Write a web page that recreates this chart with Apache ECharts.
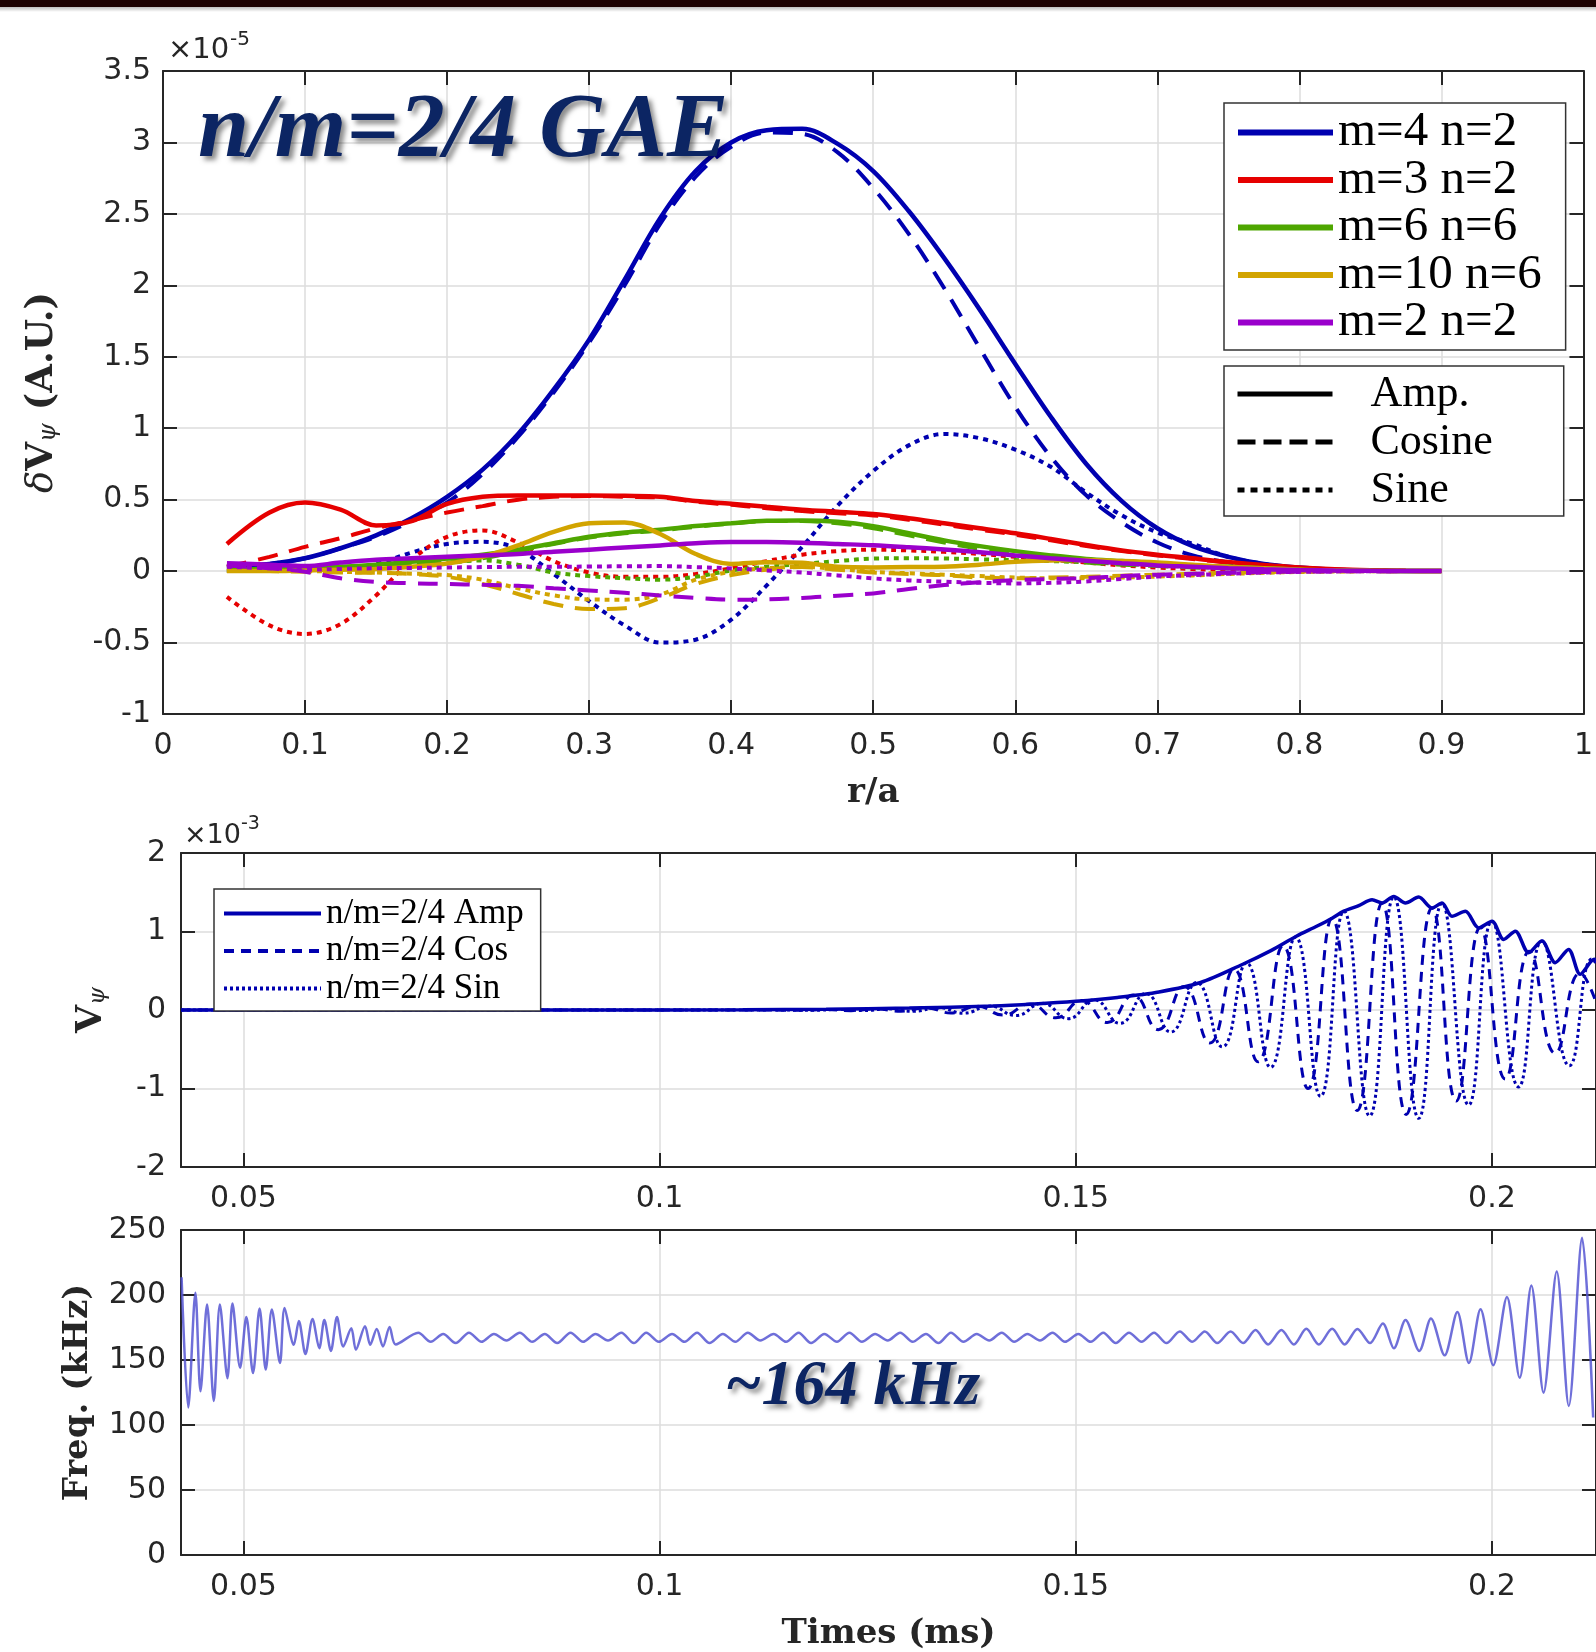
<!DOCTYPE html>
<html><head><meta charset="utf-8">
<script src="https://cdn.jsdelivr.net/npm/echarts@6/dist/echarts.min.js"></script>
<style>html,body{margin:0;padding:0;background:#fff}#c{width:1596px;height:1652px}</style>
</head><body><div id="c"></div>
<script>
// ---------------- DATA ----------------
const rGrid = [0.045,0.075,0.1,0.125,0.15,0.175,0.2,0.225,0.25,0.275,0.3,0.325,0.35,0.375,0.4,0.425,0.45,0.475,0.5,0.525,0.55,0.575,0.6,0.625,0.65,0.675,0.7,0.725,0.75,0.775,0.8,0.825,0.85,0.875,0.9];

const m4n2Amp = [0.03,0.05,0.09,0.16,0.25,0.37,0.52,0.71,0.96,1.27,1.62,2.04,2.47,2.80,3.00,3.085,3.095,2.99,2.80,2.52,2.19,1.83,1.45,1.08,0.75,0.49,0.30,0.175,0.10,0.05,0.025,0.01,0.004,0.001,0];
const m4n2Cos = [0.03,0.05,0.09,0.16,0.24,0.35,0.48,0.68,0.94,1.25,1.60,2.00,2.43,2.76,2.97,3.07,3.06,2.93,2.68,2.36,1.98,1.56,1.15,0.80,0.53,0.34,0.20,0.11,0.06,0.03,0.012,0.005,0.002,0,0];
const m4n2Sin = [0,0,0.01,0.02,0.05,0.13,0.19,0.205,0.155,-0.02,-0.21,-0.38,-0.50,-0.48,-0.34,-0.10,0.17,0.46,0.70,0.88,0.96,0.93,0.85,0.73,0.55,0.39,0.27,0.19,0.10,0.05,0.02,0.008,0.003,0.001,0];

const m3n2Amp = [0.19,0.41,0.48,0.43,0.32,0.35,0.47,0.52,0.53,0.53,0.53,0.527,0.52,0.49,0.472,0.45,0.43,0.415,0.40,0.37,0.335,0.30,0.265,0.225,0.183,0.145,0.115,0.09,0.063,0.042,0.025,0.013,0.006,0.002,0];
const m3n2Cos = [0.03,0.10,0.17,0.23,0.30,0.355,0.41,0.455,0.50,0.52,0.525,0.52,0.515,0.485,0.465,0.44,0.42,0.405,0.39,0.36,0.325,0.29,0.255,0.215,0.175,0.14,0.11,0.085,0.06,0.04,0.024,0.012,0.006,0.002,0];
const m3n2Sin = [-0.18,-0.38,-0.44,-0.37,-0.17,0.08,0.24,0.285,0.20,0.07,-0.01,-0.04,-0.04,-0.02,0.02,0.07,0.115,0.14,0.15,0.145,0.135,0.12,0.10,0.08,0.06,0.04,0.025,0.015,0.008,0.004,0.002,0.001,0,0,0];

const m6n6Amp = [0.01,0.015,0.02,0.03,0.045,0.065,0.088,0.115,0.15,0.195,0.24,0.27,0.29,0.315,0.335,0.352,0.355,0.345,0.315,0.265,0.215,0.175,0.14,0.11,0.085,0.07,0.055,0.04,0.03,0.02,0.01,0.005,0.002,0.001,0];
const m6n6Cos = [0.01,0.015,0.02,0.03,0.04,0.05,0.06,0.09,0.14,0.19,0.235,0.265,0.285,0.31,0.333,0.35,0.35,0.335,0.30,0.25,0.20,0.155,0.115,0.085,0.06,0.045,0.035,0.025,0.02,0.013,0.007,0.003,0.001,0,0];
const m6n6Sin = [0,0,0.005,0.01,0.02,0.04,0.06,0.075,0.045,-0.01,-0.035,-0.05,-0.06,-0.04,0.005,0.03,0.05,0.07,0.088,0.09,0.088,0.082,0.077,0.07,0.062,0.05,0.04,0.03,0.02,0.012,0.006,0.003,0.001,0,0];

const m10n6Amp = [0,0,0.005,0.01,0.015,0.03,0.053,0.10,0.18,0.275,0.335,0.34,0.26,0.12,0.05,0.062,0.058,0.03,0.026,0.028,0.03,0.045,0.065,0.075,0.077,0.07,0.06,0.045,0.03,0.02,0.01,0.005,0.002,0.001,0];
const m10n6Cos = [0,0,-0.005,-0.01,-0.012,-0.02,-0.04,-0.09,-0.16,-0.23,-0.265,-0.26,-0.19,-0.09,-0.028,0.01,0.028,0.01,-0.01,-0.02,-0.028,-0.045,-0.05,-0.045,-0.04,-0.032,-0.025,-0.018,-0.012,-0.007,-0.003,-0.001,0,0,0];
const m10n6Sin = [0,0,0,-0.005,-0.01,-0.018,-0.028,-0.06,-0.12,-0.17,-0.198,-0.20,-0.165,-0.06,-0.005,0.02,0.03,0.015,-0.005,-0.015,-0.025,-0.035,-0.045,-0.05,-0.05,-0.045,-0.038,-0.03,-0.02,-0.012,-0.006,-0.003,-0.001,0,0];

const m2n2Amp = [0.055,0.045,0.035,0.06,0.08,0.09,0.10,0.11,0.12,0.135,0.15,0.165,0.18,0.195,0.203,0.203,0.199,0.19,0.181,0.167,0.151,0.132,0.11,0.09,0.072,0.055,0.04,0.03,0.02,0.013,0.008,0.004,0.002,0.001,0];
const m2n2Cos = [0.04,0.02,-0.005,-0.05,-0.075,-0.085,-0.09,-0.096,-0.103,-0.12,-0.136,-0.152,-0.17,-0.188,-0.2,-0.198,-0.188,-0.172,-0.156,-0.125,-0.098,-0.078,-0.063,-0.055,-0.049,-0.035,-0.025,-0.018,-0.012,-0.007,-0.004,-0.002,-0.001,0,0];
const m2n2Sin = [0.03,0.02,0.01,0.015,0.02,0.022,0.025,0.028,0.03,0.03,0.032,0.034,0.035,0.028,0.019,0.005,-0.01,-0.03,-0.051,-0.065,-0.074,-0.082,-0.086,-0.082,-0.072,-0.055,-0.038,-0.028,-0.018,-0.01,-0.005,-0.002,-0.001,0,0];

const modeNames = ['m=4 n=2','m=3 n=2','m=6 n=6','m=10 n=6','m=2 n=2'];
const styleNames = ['Amp.','Cosine','Sine'];

// time traces (ms, x1e-3)
const vpsiAmp = [[0.0425,0],[0.09,0],[0.11,0.004],[0.12,0.01],[0.13,0.025],[0.14,0.05],[0.145,0.075],[0.15,0.11],[0.155,0.16],[0.16,0.23],[0.165,0.35],[0.17,0.58],[0.1735,0.76],[0.1765,0.94],[0.179,1.07],[0.1808,1.17],[0.1822,1.26],[0.184,1.33],[0.1856,1.405],[0.1868,1.363],[0.1882,1.447],[0.1896,1.363],[0.1912,1.439],[0.1928,1.30],[0.194,1.363],[0.1952,1.194],[0.1968,1.257],[0.1984,1.046],[0.2,1.131],[0.2014,0.899],[0.2028,1.004],[0.2044,0.73],[0.206,0.878],[0.2076,0.603],[0.2092,0.772],[0.2106,0.456],[0.2123,0.646],[0.2125,0.62]];
const vpsiCos = [[0.0425,0],[0.1135,0],[0.117,-0.004],[0.12,0.006],[0.123,-0.008],[0.126,0.014],[0.129,-0.015],[0.132,0.028],[0.135,-0.037],[0.1382,0.047],[0.1413,-0.065],[0.1445,0.078],[0.1476,-0.10],[0.1507,0.12],[0.1538,-0.16],[0.1569,0.19],[0.1599,-0.25],[0.163,0.30],[0.1661,-0.42],[0.169,0.52],[0.1719,-0.66],[0.1749,0.82],[0.1779,-1.00],[0.1808,1.17],[0.1838,-1.28],[0.1868,1.36],[0.1897,-1.33],[0.1928,1.30],[0.1957,-1.16],[0.1986,1.05],[0.2016,-0.88],[0.2045,0.75],[0.2076,-0.55],[0.2106,0.47],[0.2125,0.1]];
const vpsiSin = [[0.0425,0],[0.115,0],[0.1185,-0.004],[0.1215,0.006],[0.1245,-0.008],[0.1275,0.015],[0.1305,-0.016],[0.1335,0.03],[0.1365,-0.04],[0.1397,0.05],[0.1428,-0.07],[0.146,0.085],[0.1491,-0.11],[0.1522,0.13],[0.1553,-0.17],[0.1584,0.21],[0.1614,-0.28],[0.1645,0.35],[0.1676,-0.47],[0.1705,0.60],[0.1734,-0.73],[0.1764,0.93],[0.1794,-1.10],[0.1822,1.26],[0.1853,-1.35],[0.1882,1.44],[0.1912,-1.38],[0.194,1.36],[0.1972,-1.21],[0.2,1.13],[0.2032,-0.98],[0.206,0.88],[0.2093,-0.71],[0.212,0.65],[0.2125,0.6]];

const freqKHz = [[0.04257,213.7],[0.04337,113.5],[0.04423,201.8],[0.04484,126.0],[0.04563,192.6],[0.04644,118.5],[0.04717,192.6],[0.04808,136.0],[0.04868,193.4],[0.0496,144.0],[0.05035,183.0],[0.05115,140.0],[0.05194,189.6],[0.05268,142.6],[0.05341,188.8],[0.05439,147.7],[0.05494,190.0],[0.05605,161.7],[0.05666,180.0],[0.05745,154.6],[0.0583,181.5],[0.05911,159.0],[0.05972,180.7],[0.06051,157.0],[0.06124,183.0],[0.06199,160.4],[0.06296,174.4],[0.06351,157.9],[0.06461,176.0],[0.06523,161.7],[0.06602,173.9],[0.06676,160.4],[0.06756,175.4],[0.06829,162.0],
[0.0710,171],[0.0725,164],[0.0740,170],[0.0755,163],[0.0771,171],[0.0786,164],[0.0801,170],[0.0816,165],[0.0832,171],[0.0847,164],[0.0862,170],[0.0877,163],[0.0893,171],[0.0908,164],[0.0923,170],[0.0938,165],[0.0954,171],[0.0969,163],[0.0984,171],[0.0999,164],[0.1015,170],[0.1030,164],[0.1045,171],[0.1060,163],[0.1076,170],[0.1091,164],[0.1106,171],[0.1121,165],[0.1137,170],[0.1152,164],[0.1167,171],[0.1182,163],[0.1198,170],[0.1213,164],[0.1228,171],[0.1243,164],[0.1259,170],[0.1274,165],[0.1289,171],[0.1304,164],[0.1320,170],[0.1335,163],[0.1350,171],[0.1365,164],[0.1381,170],[0.1396,165],[0.1411,171],[0.1426,164],[0.1442,170],[0.1457,165],[0.1472,171],[0.1487,164],[0.1503,170],[0.1518,164],[0.1533,171],[0.1548,163],[0.1564,171],[0.1579,164],[0.1594,171],[0.1609,163],[0.1625,172],[0.1640,164],[0.1655,172],[0.1670,163],[0.1686,172],[0.1701,163],[0.1716,173],[0.1731,162],[0.1747,173],[0.1762,162],[0.1777,174],[0.1792,162],[0.1808,174],[0.1823,162],
[0.18384,173.9],[0.18535,163.0],[0.18689,178.0],[0.18822,159.0],[0.18962,180.7],[0.19127,157.0],[0.19267,182.0],[0.19431,153.6],[0.19584,187.0],[0.19723,147.7],[0.19863,189.0],[0.20015,146.0],[0.2018,198.5],[0.20333,136.3],[0.20473,207.4],[0.2062,124.9],[0.20778,218.0],[0.20923,114.7],[0.21083,244.0],[0.21216,105.8]];

const rTicks = {min:0, max:1, interval:0.1};
const timeTicks = [0.05, 0.1, 0.15, 0.2];

// ---------------- STYLE ----------------
const AX = '#262626';
const tickFont = {fontFamily:'DejaVu Sans', fontSize:30, color:AX};
const nameFont = {fontFamily:'DejaVu Serif', fontWeight:'bold', fontSize:34, color:AX};
const modeColors = ['#0000b0','#e60000','#4ea600','#d2a400','#9a00cc'];

function axisCommon(showLabel, margin) {
  return {
    type:'value',
    axisLine:{show:true, onZero:false, lineStyle:{color:AX, width:2}},
    axisTick:{show:true, inside:true, length:14, lineStyle:{color:AX, width:2}},
    axisLabel: Object.assign({show:showLabel, margin:margin}, tickFont),
    splitLine:{show:showLabel, lineStyle:{color:'#dcdcdc', width:1.5}}
  };
}
function timeX(grid, pos, showLabel, name) {
  const a = axisCommon(showLabel, 17);
  a.gridIndex = grid; a.position = pos; a.min = 0.0425; a.max = 0.2125;
  a.axisTick.customValues = timeTicks;
  a.axisLabel.customValues = timeTicks;
  if (name) { a.name = name; a.nameLocation = 'middle'; a.nameGap = 62; a.nameTextStyle = nameFont; }
  return a;
}

const xAxes = [];
let a = axisCommon(true, 17);
Object.assign(a, {gridIndex:0, position:'bottom', min:rTicks.min, max:rTicks.max, interval:rTicks.interval,
  name:'r/a', nameLocation:'middle', nameGap:62, nameTextStyle:nameFont});
xAxes.push(a);
a = axisCommon(false, 17);
Object.assign(a, {gridIndex:0, position:'top', min:rTicks.min, max:rTicks.max, interval:rTicks.interval});
xAxes.push(a);
xAxes.push(timeX(1,'bottom',true));
xAxes.push(timeX(1,'top',false));
xAxes.push(timeX(2,'bottom',true,'Times (ms)'));
xAxes.push(timeX(2,'top',false));

const yAxes = [];
function yAx(grid, pos, min, max, interval, showLabel, margin, nameOpt) {
  const y = axisCommon(showLabel, margin);
  Object.assign(y, {gridIndex:grid, position:pos, min:min, max:max, interval:interval});
  if (nameOpt) Object.assign(y, nameOpt);
  return y;
}
function subRich(fs) {
  return {
    d:{fontFamily:'DejaVu Serif', fontStyle:'italic', fontSize:fs, color:AX, lineHeight:fs, verticalAlign:'top'},
    v:{fontFamily:'DejaVu Serif', fontWeight:'bold', fontSize:fs, color:AX, lineHeight:fs, verticalAlign:'top'},
    s:{fontFamily:'DejaVu Serif', fontStyle:'italic', fontSize:Math.round(fs*0.65), color:AX, lineHeight:Math.round(fs*0.65), padding:[Math.round(fs*0.5),0,0,0], verticalAlign:'bottom'},
    t:{fontFamily:'DejaVu Serif', fontWeight:'bold', fontSize:fs, color:AX, lineHeight:fs, verticalAlign:'top'}
  };
}
yAxes.push(yAx(0,'left',-1,3.5,0.5,true,12,{name:'{d|δ}{v|V}{s|ψ}{t| (A.U.)}', nameLocation:'middle', nameRotate:90, nameGap:102, nameTextStyle:{rich:subRich(37)}}));
yAxes.push(yAx(0,'right',-1,3.5,0.5,false,12));
yAxes.push(yAx(1,'left',-2,2,1,true,15,{name:'{v|V}{s|ψ}', nameLocation:'middle', nameRotate:90, nameGap:71, nameTextStyle:{rich:subRich(36)}}));
yAxes.push(yAx(1,'right',-2,2,1,false,15));
yAxes.push(yAx(2,'left',0,250,50,true,15,{name:'Freq. (kHz)', nameLocation:'middle', nameRotate:90, nameGap:86, nameTextStyle:nameFont}));
yAxes.push(yAx(2,'right',0,250,50,false,15));

// ---------------- SERIES ----------------
const radial = [
  [m4n2Amp,m4n2Cos,m4n2Sin],[m3n2Amp,m3n2Cos,m3n2Sin],[m6n6Amp,m6n6Cos,m6n6Sin],
  [m10n6Amp,m10n6Cos,m10n6Sin],[m2n2Amp,m2n2Cos,m2n2Sin]
];
const series = [];
radial.forEach((set, mi) => {
  const kinds = ['amp','cos','sin'];
  set.forEach((vals, k) => {
    series.push({
      type:'line', name: k===0 ? modeNames[mi] : modeNames[mi] + ' ' + kinds[k],
      xAxisIndex:0, yAxisIndex:0,
      data: rGrid.map((r,i)=>[r, vals[i]]),
      smooth:0.35, symbol:'none', showSymbol:false, silent:true,
      itemStyle:{color:modeColors[mi]},
      lineStyle:{color:modeColors[mi], width: k===0?4.5:4, type: k===0?'solid':(k===1?[20,12]:[5,5])}
    });
  });
});
// style-legend placeholders (black)
[['solid',5],[[18,8],5],[[7,6],5]].forEach((st,i)=>{
  series.push({type:'line', name:styleNames[i], xAxisIndex:0, yAxisIndex:0, data:[], symbol:'none',
    itemStyle:{color:'#000'}, lineStyle:{color:'#000', width:st[1], type:st[0]}});
});
const tBlue = '#0000b0';
series.push({type:'line', name:'n/m=2/4 Amp', xAxisIndex:2, yAxisIndex:2, data:vpsiAmp, smooth:0.3, symbol:'none',
  itemStyle:{color:tBlue}, lineStyle:{color:tBlue, width:3.5}});
series.push({type:'line', name:'n/m=2/4 Cos', xAxisIndex:2, yAxisIndex:2, data:vpsiCos, smooth:0.5, symbol:'none',
  itemStyle:{color:tBlue}, lineStyle:{color:tBlue, width:3, type:[10,7]}});
series.push({type:'line', name:'n/m=2/4 Sin', xAxisIndex:2, yAxisIndex:2, data:vpsiSin, smooth:0.5, symbol:'none',
  itemStyle:{color:tBlue}, lineStyle:{color:tBlue, width:3, type:[3,3]}});
series.push({type:'line', name:'Freq', xAxisIndex:4, yAxisIndex:4, data:freqKHz, smooth:0.3, symbol:'none',
  itemStyle:{color:'#5656d2'}, lineStyle:{color:'#5656d2', width:2.5, opacity:0.85}});

const legendBox = {orient:'vertical', borderColor:'#333', borderWidth:1.5, backgroundColor:'#fff', selectedMode:false, itemGap:0,
  itemStyle:{opacity:0, borderWidth:0}};
const option = {
  animation:false,
  backgroundColor:'#ffffff',
  grid:[
    {left:163, right:3, top:71, bottom:938, containLabel:false},
    {left:181, right:-2, top:853, bottom:485},
    {left:181, right:-2, top:1230, bottom:94}
  ],
  xAxis:xAxes, yAxis:yAxes,
  legend:[
    Object.assign({}, legendBox, {left:1224, top:103, itemWidth:95, itemHeight:2, itemGap:-1.5, padding:[5,24,3,11],
      data:modeNames, lineStyle:{width:6},
      textStyle:{fontFamily:'Liberation Serif', fontSize:49, color:'#000'}}),
    Object.assign({}, legendBox, {left:1224, top:366, itemWidth:95, itemHeight:2, itemGap:4, padding:[6,71,4,11],
      data:styleNames, lineStyle:{width:5}, formatter:n=>'   '+n,
      textStyle:{fontFamily:'Liberation Serif', fontSize:44, color:'#000'}}),
    Object.assign({}, legendBox, {left:214, top:889, itemWidth:97, itemHeight:2, itemGap:2.5, padding:[7,17,5,8],
      data:['n/m=2/4 Amp','n/m=2/4 Cos','n/m=2/4 Sin'], lineStyle:{width:4},
      textStyle:{fontFamily:'Liberation Serif', fontSize:35, color:'#000'}})
  ],
  graphic:[
    {type:'rect', z:100, shape:{x:0,y:0,width:1596,height:7}, style:{fill:'#1e0303'}},
    {type:'rect', z:100, shape:{x:0,y:7,width:1596,height:5}, style:{fill:new echarts.graphic.LinearGradient(0,0,0,1,[{offset:0,color:'rgba(0,0,0,0.25)'},{offset:1,color:'rgba(0,0,0,0)'}])}},
    {type:'text', z:100, x:198, y:132, style:{text:'n/m=2/4 GAE', font:'italic bold 92px "Liberation Serif"', fill:'#0c2563',
      verticalAlign:'middle', textShadowColor:'rgba(0,0,0,0.45)', textShadowBlur:5, textShadowOffsetX:4, textShadowOffsetY:4}},
    {type:'text', z:100, x:725, y:1387, style:{text:'~164 kHz', font:'italic bold 64px "Liberation Serif"', fill:'#0c2563',
      verticalAlign:'middle', textShadowColor:'rgba(0,0,0,0.45)', textShadowBlur:5, textShadowOffsetX:4, textShadowOffsetY:4}},
    {type:'text', z:100, x:168, y:50, style:{text:'×10', font:'29px "DejaVu Sans"', fill:AX, verticalAlign:'middle'}},
    {type:'text', z:100, x:230, y:40, style:{text:'-5', font:'20px "DejaVu Sans"', fill:AX, verticalAlign:'middle'}},
    {type:'text', z:100, x:184, y:836, style:{text:'×10', font:'27px "DejaVu Sans"', fill:AX, verticalAlign:'middle'}},
    {type:'text', z:100, x:241, y:824, style:{text:'-3', font:'19px "DejaVu Sans"', fill:AX, verticalAlign:'middle'}}
  ],
  series:series
};
const chart = echarts.init(document.getElementById('c'), null, {renderer:'canvas', width:1596, height:1652});
chart.setOption(option);
</script></body></html>
